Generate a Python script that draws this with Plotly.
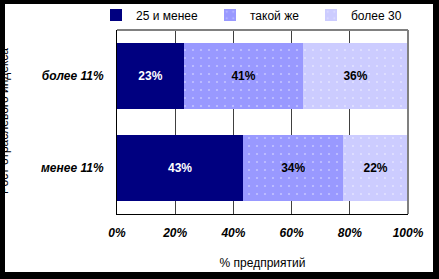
import plotly.graph_objects as go

categories = ["менее 11%", "более 11%"]
series_names = ["25 и менее", "такой же", "более 30"]
v_25_less = [43, 23]
v_same = [34, 41]
v_over30 = [22, 36]
x_ticks = [0, 20, 40, 60, 80, 100]

colors = ["#000080", "#9999FF", "#CCCCFF"]
text_colors = ["white", "black", "black"]
legend_ids = ["legend", "legend2", "legend3"]
legend_text_x = [136, 250, 351]

W, H = 439, 279
L, R, T, B = 117, 31, 30, 65
pw, ph = W - L - R, H - T - B

def px(x):
    return (x - L) / pw

def py(y):
    return (H - B - y) / ph

fig = go.Figure()
for i, (name, vals, c, tc) in enumerate(zip(series_names, [v_25_less, v_same, v_over30], colors, text_colors)):
    marker = dict(color=c, line=dict(width=0))
    if i > 0:
        marker["pattern"] = dict(shape=".", fgcolor="white", fgopacity=0.4, size=8, solidity=0.06)
    fig.add_trace(go.Bar(
        y=categories, x=vals, name=name, orientation="h",
        marker=marker,
        text=[f"{v}%" for v in vals], texttemplate="%{text}",
        textposition="inside", insidetextanchor="middle",
        textfont=dict(color=tc, size=12, family="Liberation Sans", weight="bold"),
        hoverinfo="skip", legend=legend_ids[i], showlegend=True,
    ))

legend_common = dict(orientation="h", xanchor="left", y=py(15), yanchor="middle",
                     font=dict(size=12), bgcolor="rgba(0,0,0,0)", itemwidth=30,
                     itemclick=False)
legends = {lid: dict(legend_common, x=px(tx - 40)) for lid, tx in zip(legend_ids, legend_text_x)}

fig.update_layout(
    width=W, height=H,
    showlegend=True,
    margin=dict(l=L, r=R, t=T, b=B, autoexpand=False),
    barmode="stack", barnorm="percent", bargap=0.28,
    paper_bgcolor="black", plot_bgcolor="white",
    font=dict(family="Liberation Sans", size=12, color="black"),
    xaxis=dict(range=[0, 100], tickvals=x_ticks, ticktext=[f"{t}%" for t in x_ticks],
               showgrid=True, gridcolor="#404040", gridwidth=1,
               showline=True, linecolor="black", linewidth=1,
               ticks="", ticklabelstandoff=8, zeroline=False,
               tickfont=dict(size=12, weight="bold", style="italic"),
               title=dict(text="% предприятий", font=dict(size=12), standoff=19),
               fixedrange=True),
    yaxis=dict(showline=True, linecolor="black", linewidth=1, ticks="",
               ticklabelstandoff=10, showgrid=False,
               tickfont=dict(size=12, weight="bold", style="italic"),
               fixedrange=True),
    shapes=[
        dict(type="rect", xref="paper", yref="paper", x0=px(5), x1=px(433), y0=py(272), y1=py(4),
             fillcolor="white", line=dict(width=0), layer="below"),
        dict(type="line", xref="paper", yref="paper", x0=0, x1=1, y0=1, y1=1,
             line=dict(color="#808080", width=2), layer="above"),
        dict(type="line", xref="paper", yref="paper", x0=1, x1=1, y0=0, y1=1,
             line=dict(color="#808080", width=2), layer="above"),
    ],
    annotations=[
        dict(text="Рост отраслевого индекса", xref="paper", yref="paper",
             x=px(4), y=py(121), textangle=-90, showarrow=False,
             font=dict(size=12, color="black"), xanchor="center", yanchor="middle"),
    ],
    **legends,
)

fig.write_html("out.html")
